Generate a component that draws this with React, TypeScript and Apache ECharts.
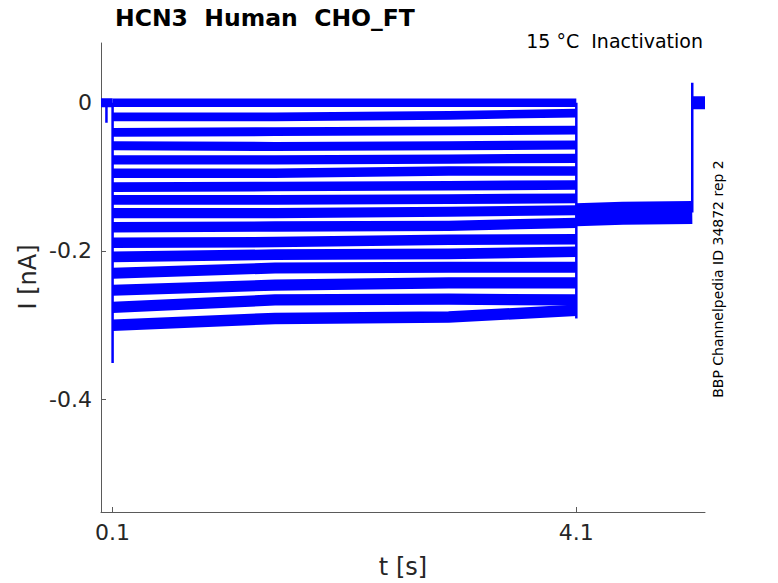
import React, { useEffect, useRef } from "react";
import * as echarts from "echarts";

const stepTimes = [0.1, 1.5, 3.0, 4.1];
// Current (nA) of each sweep at stepTimes
const traceLevels = [
  [0.0, 0.0, 0.0, 0.0],
  [-0.019, -0.019, -0.017, -0.014],
  [-0.04, -0.039, -0.038, -0.037],
  [-0.058, -0.059, -0.058, -0.057],
  [-0.077, -0.077, -0.076, -0.075],
  [-0.095, -0.095, -0.092, -0.092],
  [-0.114, -0.113, -0.112, -0.111],
  [-0.131, -0.131, -0.13, -0.129],
  [-0.149, -0.149, -0.147, -0.145],
  [-0.168, -0.167, -0.166, -0.162],
  [-0.189, -0.188, -0.185, -0.184],
  [-0.208, -0.205, -0.204, -0.201],
  [-0.23, -0.223, -0.222, -0.222],
  [-0.253, -0.246, -0.243, -0.243],
  [-0.276, -0.266, -0.265, -0.266],
  [-0.3, -0.291, -0.289, -0.28],
];
// Holding before the step
const holdTimes = [0.0, 0.1];
const holdLevels = [0.0, 0.0];
// Tail after the step (all sweeps overlap)
const tailTimes = [4.1, 4.5, 5.1];
const tailLevels = [-0.151, -0.149, -0.148];
// Return to holding
const endTimes = [5.1, 5.21];
const endLevels = [0.0, 0.0];
// Capacitive transients: [time, from, to]
const transients = [
  [0.047, 0.0, -0.027],
  [0.1, 0.0, -0.351],
  [4.1, 0.0, -0.291],
  [5.1, -0.148, 0.027],
];

const xTicks = [0.1, 4.1];
const yTicks = [0, -0.2, -0.4];

const BLUE = "#0000ff";
const AXIS = "#5a5a5a";
const TXT = "#262626";
const FONT = "DejaVu Sans";

export default function App() {
  const ref = useRef<HTMLDivElement>(null);
  useEffect(() => {
    if (!ref.current) return;
    const chart = echarts.init(ref.current, undefined, { renderer: "svg" });
    const series: any[] = [];
    const lineS = (data: number[][], width: number) => ({
      type: "line",
      data,
      showSymbol: false,
      symbol: "none",
      silent: true,
      lineStyle: { color: BLUE, width, cap: "butt", join: "miter" },
    });
    series.push(lineS(holdTimes.map((t, i) => [t, holdLevels[i]]), 9));
    traceLevels.forEach((lv, k) => {
      series.push(
        lineS(
          stepTimes.map((t, i) => [t, lv[i]]),
          8.5 + (k / (traceLevels.length - 1)) * 3
        )
      );
    });
    series.push(lineS(tailTimes.map((t, i) => [t, tailLevels[i]]), 23));
    series.push(lineS(endTimes.map((t, i) => [t, endLevels[i]]), 13));
    transients.forEach((tr) => {
      series.push(
        lineS(
          [
            [tr[0], tr[1]],
            [tr[0], tr[2]],
          ],
          2.5
        )
      );
    });

    chart.setOption({
      animation: false,
      grid: { left: 101, right: 73, top: 43, bottom: 71, containLabel: false },
      xAxis: {
        type: "value",
        min: 0,
        max: 5.21,
        axisLine: { show: true, onZero: false, lineStyle: { color: AXIS, width: 1 } },
        axisTick: {
          show: true,
          inside: true,
          length: 5,
          customValues: xTicks,
          lineStyle: { color: AXIS },
        },
        axisLabel: {
          customValues: xTicks,
          color: TXT,
          fontSize: 22,
          fontFamily: FONT,
          margin: 9,
        },
        splitLine: { show: false },
      },
      yAxis: {
        type: "value",
        min: -0.552,
        max: 0.0805,
        axisLine: { show: true, onZero: false, lineStyle: { color: AXIS, width: 1 } },
        axisTick: {
          show: true,
          inside: true,
          length: 5,
          customValues: yTicks,
          lineStyle: { color: AXIS },
        },
        axisLabel: {
          customValues: yTicks,
          color: TXT,
          fontSize: 22,
          fontFamily: FONT,
          margin: 9,
        },
        splitLine: { show: false },
      },
      graphic: [
        {
          type: "text",
          x: 115,
          y: 18,
          style: {
            text: "HCN3  Human  CHO_FT",
            font: `bold 23.5px "${FONT}"`,
            fill: "#000",
            textAlign: "left",
            textVerticalAlign: "middle",
          },
        },
        {
          type: "text",
          x: 703,
          y: 41,
          style: {
            text: "15 °C  Inactivation",
            font: `19px "${FONT}"`,
            fill: "#000",
            textAlign: "right",
            textVerticalAlign: "middle",
          },
        },
        {
          type: "text",
          x: 718,
          y: 279,
          rotation: Math.PI / 2,
          style: {
            text: "BBP Channelpedia ID 34872 rep 2",
            font: `14px "${FONT}"`,
            fill: "#000",
            textAlign: "center",
            textVerticalAlign: "middle",
          },
        },
        {
          type: "text",
          x: 28,
          y: 277,
          rotation: Math.PI / 2,
          style: {
            text: "I [nA]",
            font: `24px "${FONT}"`,
            fill: TXT,
            textAlign: "center",
            textVerticalAlign: "middle",
          },
        },
        {
          type: "text",
          x: 403,
          y: 567,
          style: {
            text: "t [s]",
            font: `24px "${FONT}"`,
            fill: TXT,
            textAlign: "center",
            textVerticalAlign: "middle",
          },
        },
      ],
      series,
    });
    return () => chart.dispose();
  }, []);
  return (
    <div
      ref={ref}
      style={{ position: "fixed", left: 0, top: 0, width: 778, height: 583, background: "#fff" }}
    />
  );
}
